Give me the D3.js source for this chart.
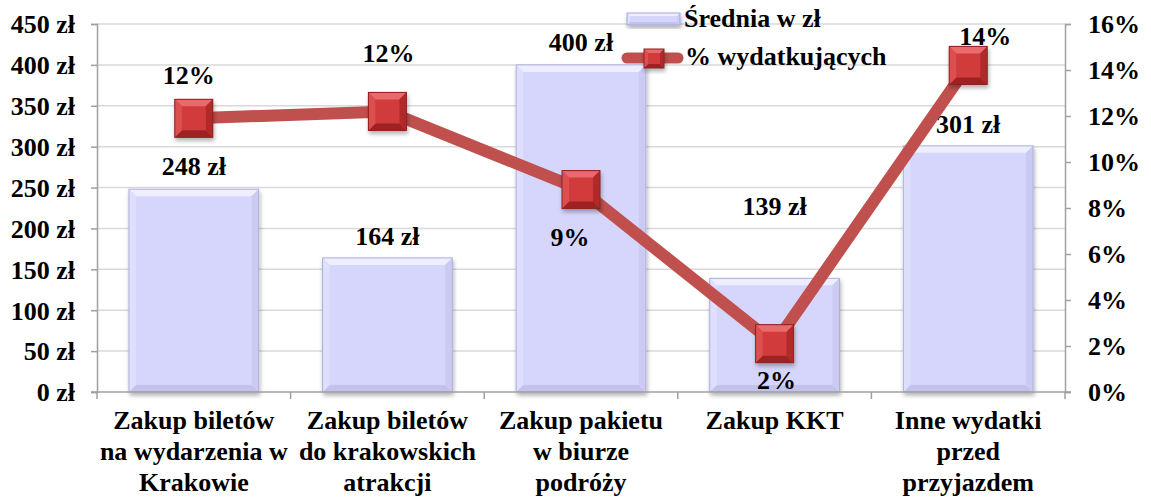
<!DOCTYPE html>
<html><head><meta charset="utf-8">
<script src="https://cdn.jsdelivr.net/npm/d3@7"></script>
</head><body style="margin:0;background:#fff"><svg id="c" width="1151" height="500"></svg>
<script>
const categories = [["Zakup biletów","na wydarzenia w","Krakowie"],["Zakup biletów","do krakowskich","atrakcji"],["Zakup pakietu","w biurze","podróży"],["Zakup KKT"],["Inne wydatki","przed","przyjazdem"]];
const avgValues = [248, 164, 400, 139, 301];
const pctValues = [11.9, 12.2, 8.8, 2.1, 14.2];
const pctLabels = ["12%","12%","9%","2%","14%"];
const leftTicks = [0,50,100,150,200,250,300,350,400,450];
const rightTicks = [0,2,4,6,8,10,12,14,16];
const seriesNames = ["Średnia w zł","% wydatkujących"];
// label offsets (layout)
const barLabelDy = [-22,-21,-22,-71,-21];
const pctLabelDy = [-42,-57,48,37,-28];
const pctLabelDx = [-5,1,-11,2,17];

const FS = 26;
const svg = d3.select("#c");
const m = {l:97, r:1065, t:24, b:392};
const x = d3.scaleBand().domain(d3.range(5)).range([m.l,m.r]).paddingInner(0.33).paddingOuter(0.165);
const xb = d3.scaleBand().domain(d3.range(5)).range([m.l,m.r]);
const yL = d3.scaleLinear().domain([0,450]).range([m.b,m.t]);
const yR = d3.scaleLinear().domain([0,16]).range([m.b,m.t]);

function txt(sel){ return sel.style("font-family",'"Times New Roman"').style("font-weight","bold").style("font-size",FS+"px").style("fill","#000"); }

const defs = svg.append("defs");
const f = defs.append("filter").attr("id","sh").attr("x","-30%").attr("y","-30%").attr("width","160%").attr("height","160%");
f.append("feDropShadow").attr("dx",1).attr("dy",3).attr("stdDeviation",2).attr("flood-color","#000").attr("flood-opacity",0.3);

// gridlines
svg.append("g").selectAll("line").data(leftTicks.slice(1)).join("line")
  .attr("x1",m.l).attr("x2",m.r).attr("y1",d=>yL(d)).attr("y2",d=>yL(d))
  .attr("stroke","#d9d9d9").attr("stroke-width",1.5);

function bevelRect(g, x0, y0, w, h, b, cols, stroke){
  const x1=x0+w, y1=y0+h;
  g.append("rect").attr("x",x0).attr("y",y0).attr("width",w).attr("height",h).attr("fill",cols.c);
  g.append("polygon").attr("points",[[x0,y0],[x1,y0],[x1-b,y0+b],[x0+b,y0+b]].join(" ")).attr("fill",cols.t);
  g.append("polygon").attr("points",[[x0,y1],[x1,y1],[x1-b,y1-b],[x0+b,y1-b]].join(" ")).attr("fill",cols.bo);
  g.append("polygon").attr("points",[[x0,y0],[x0+b,y0+b],[x0+b,y1-b],[x0,y1]].join(" ")).attr("fill",cols.l);
  g.append("polygon").attr("points",[[x1,y0],[x1-b,y0+b],[x1-b,y1-b],[x1,y1]].join(" ")).attr("fill",cols.r);
  g.append("rect").attr("x",x0).attr("y",y0).attr("width",w).attr("height",h).attr("fill","none").attr("stroke",stroke).attr("stroke-width",1);
}
const barCols = {c:"#d6d6fc",t:"#eeeeff",bo:"#c2c2ec",l:"#dedefd",r:"#cacaf2"};
const mkCols = {c:"#d13a3a",t:"#e86a6a",bo:"#9e2424",l:"#dd5050",r:"#b02c2c"};

// bars
const bars = svg.append("g");
avgValues.forEach((v,i)=>{
  const g = bars.append("g").attr("filter","url(#sh)");
  bevelRect(g, x(i), yL(v), x.bandwidth(), yL(0)-yL(v), 7, barCols, "#b0b0dc");
});

// axes
const axL = svg.append("g").attr("transform",`translate(${m.l},0)`)
  .call(d3.axisLeft(yL).tickValues(leftTicks).tickSize(6).tickPadding(16).tickFormat(d=>d+" zł"));
const axR = svg.append("g").attr("transform",`translate(${m.r},0)`)
  .call(d3.axisRight(yR).tickValues(rightTicks).tickSize(6).tickPadding(17).tickFormat(d=>d+"%"));
[axL,axR].forEach(a=>{a.attr("font-family",null).attr("font-size",null);
  a.select(".domain").attr("stroke","#a0a0a0").attr("stroke-width",1.5);
  a.selectAll(".tick line").attr("stroke","#a0a0a0").attr("stroke-width",1.5);
  txt(a.selectAll("text")).attr("dy","0.34em");});
// bottom axis
const bot = svg.append("g");
bot.append("line").attr("x1",m.l-6).attr("x2",m.r+6).attr("y1",m.b).attr("y2",m.b).attr("stroke","#a0a0a0").attr("stroke-width",1.5);
bot.selectAll("line.t").data(d3.range(6)).join("line").attr("class","t")
  .attr("x1",d=>m.l+d*xb.bandwidth()).attr("x2",d=>m.l+d*xb.bandwidth()).attr("y1",m.b).attr("y2",m.b+7)
  .attr("stroke","#a0a0a0").attr("stroke-width",1.5);
categories.forEach((lines,i)=>{
  const t = txt(bot.append("text")).attr("text-anchor","middle")
    .attr("x",xb(i)+xb.bandwidth()/2).attr("y",429);
  lines.forEach((s,j)=>t.append("tspan").attr("x",xb(i)+xb.bandwidth()/2).attr("dy",j?31:0).text(s));
});

// bar labels
txt(svg.append("g").selectAll("text").data(avgValues).join("text"))
  .attr("text-anchor","middle")
  .attr("x",(d,i)=>x(i)+x.bandwidth()/2).attr("y",(d,i)=>yL(d)+barLabelDy[i]+8)
  .text(d=>d+" zł");

// line
const cx = i=>xb(i)+xb.bandwidth()/2;
svg.append("path").datum(pctValues)
  .attr("d",d3.line().x((d,i)=>cx(i)).y(d=>yR(d)))
  .attr("fill","none").attr("stroke","#c0504d").attr("stroke-width",12).attr("stroke-linejoin","round");
const ms = 38;
pctValues.forEach((v,i)=>{
  const g = svg.append("g").attr("filter","url(#sh)");
  bevelRect(g, cx(i)-ms/2, yR(v)-ms/2, ms, ms, 7, mkCols, "#8c2020");
});
txt(svg.append("g").selectAll("text").data(pctLabels).join("text"))
  .attr("text-anchor","middle")
  .attr("x",(d,i)=>cx(i)+pctLabelDx[i]).attr("y",(d,i)=>yR(pctValues[i])+pctLabelDy[i]+8)
  .text(d=>d);

// legend
const lg = svg.append("g");
const lg1 = lg.append("g").attr("filter","url(#sh)");
bevelRect(lg1, 627, 13, 53, 12, 3, barCols, "#a8a8d8");
txt(lg.append("text")).attr("x",684).attr("y",27).text(seriesNames[0]);
lg.append("line").attr("x1",627).attr("x2",678).attr("y1",58).attr("y2",58).attr("stroke","#c0504d").attr("stroke-width",11).attr("stroke-linecap","round");
const lg2 = lg.append("g").attr("filter","url(#sh)");
bevelRect(lg2, 644, 49, 20, 19, 4, mkCols, "#8c2020");
txt(lg.append("text")).attr("x",685).attr("y",65).text(seriesNames[1]);
</script></body></html>
